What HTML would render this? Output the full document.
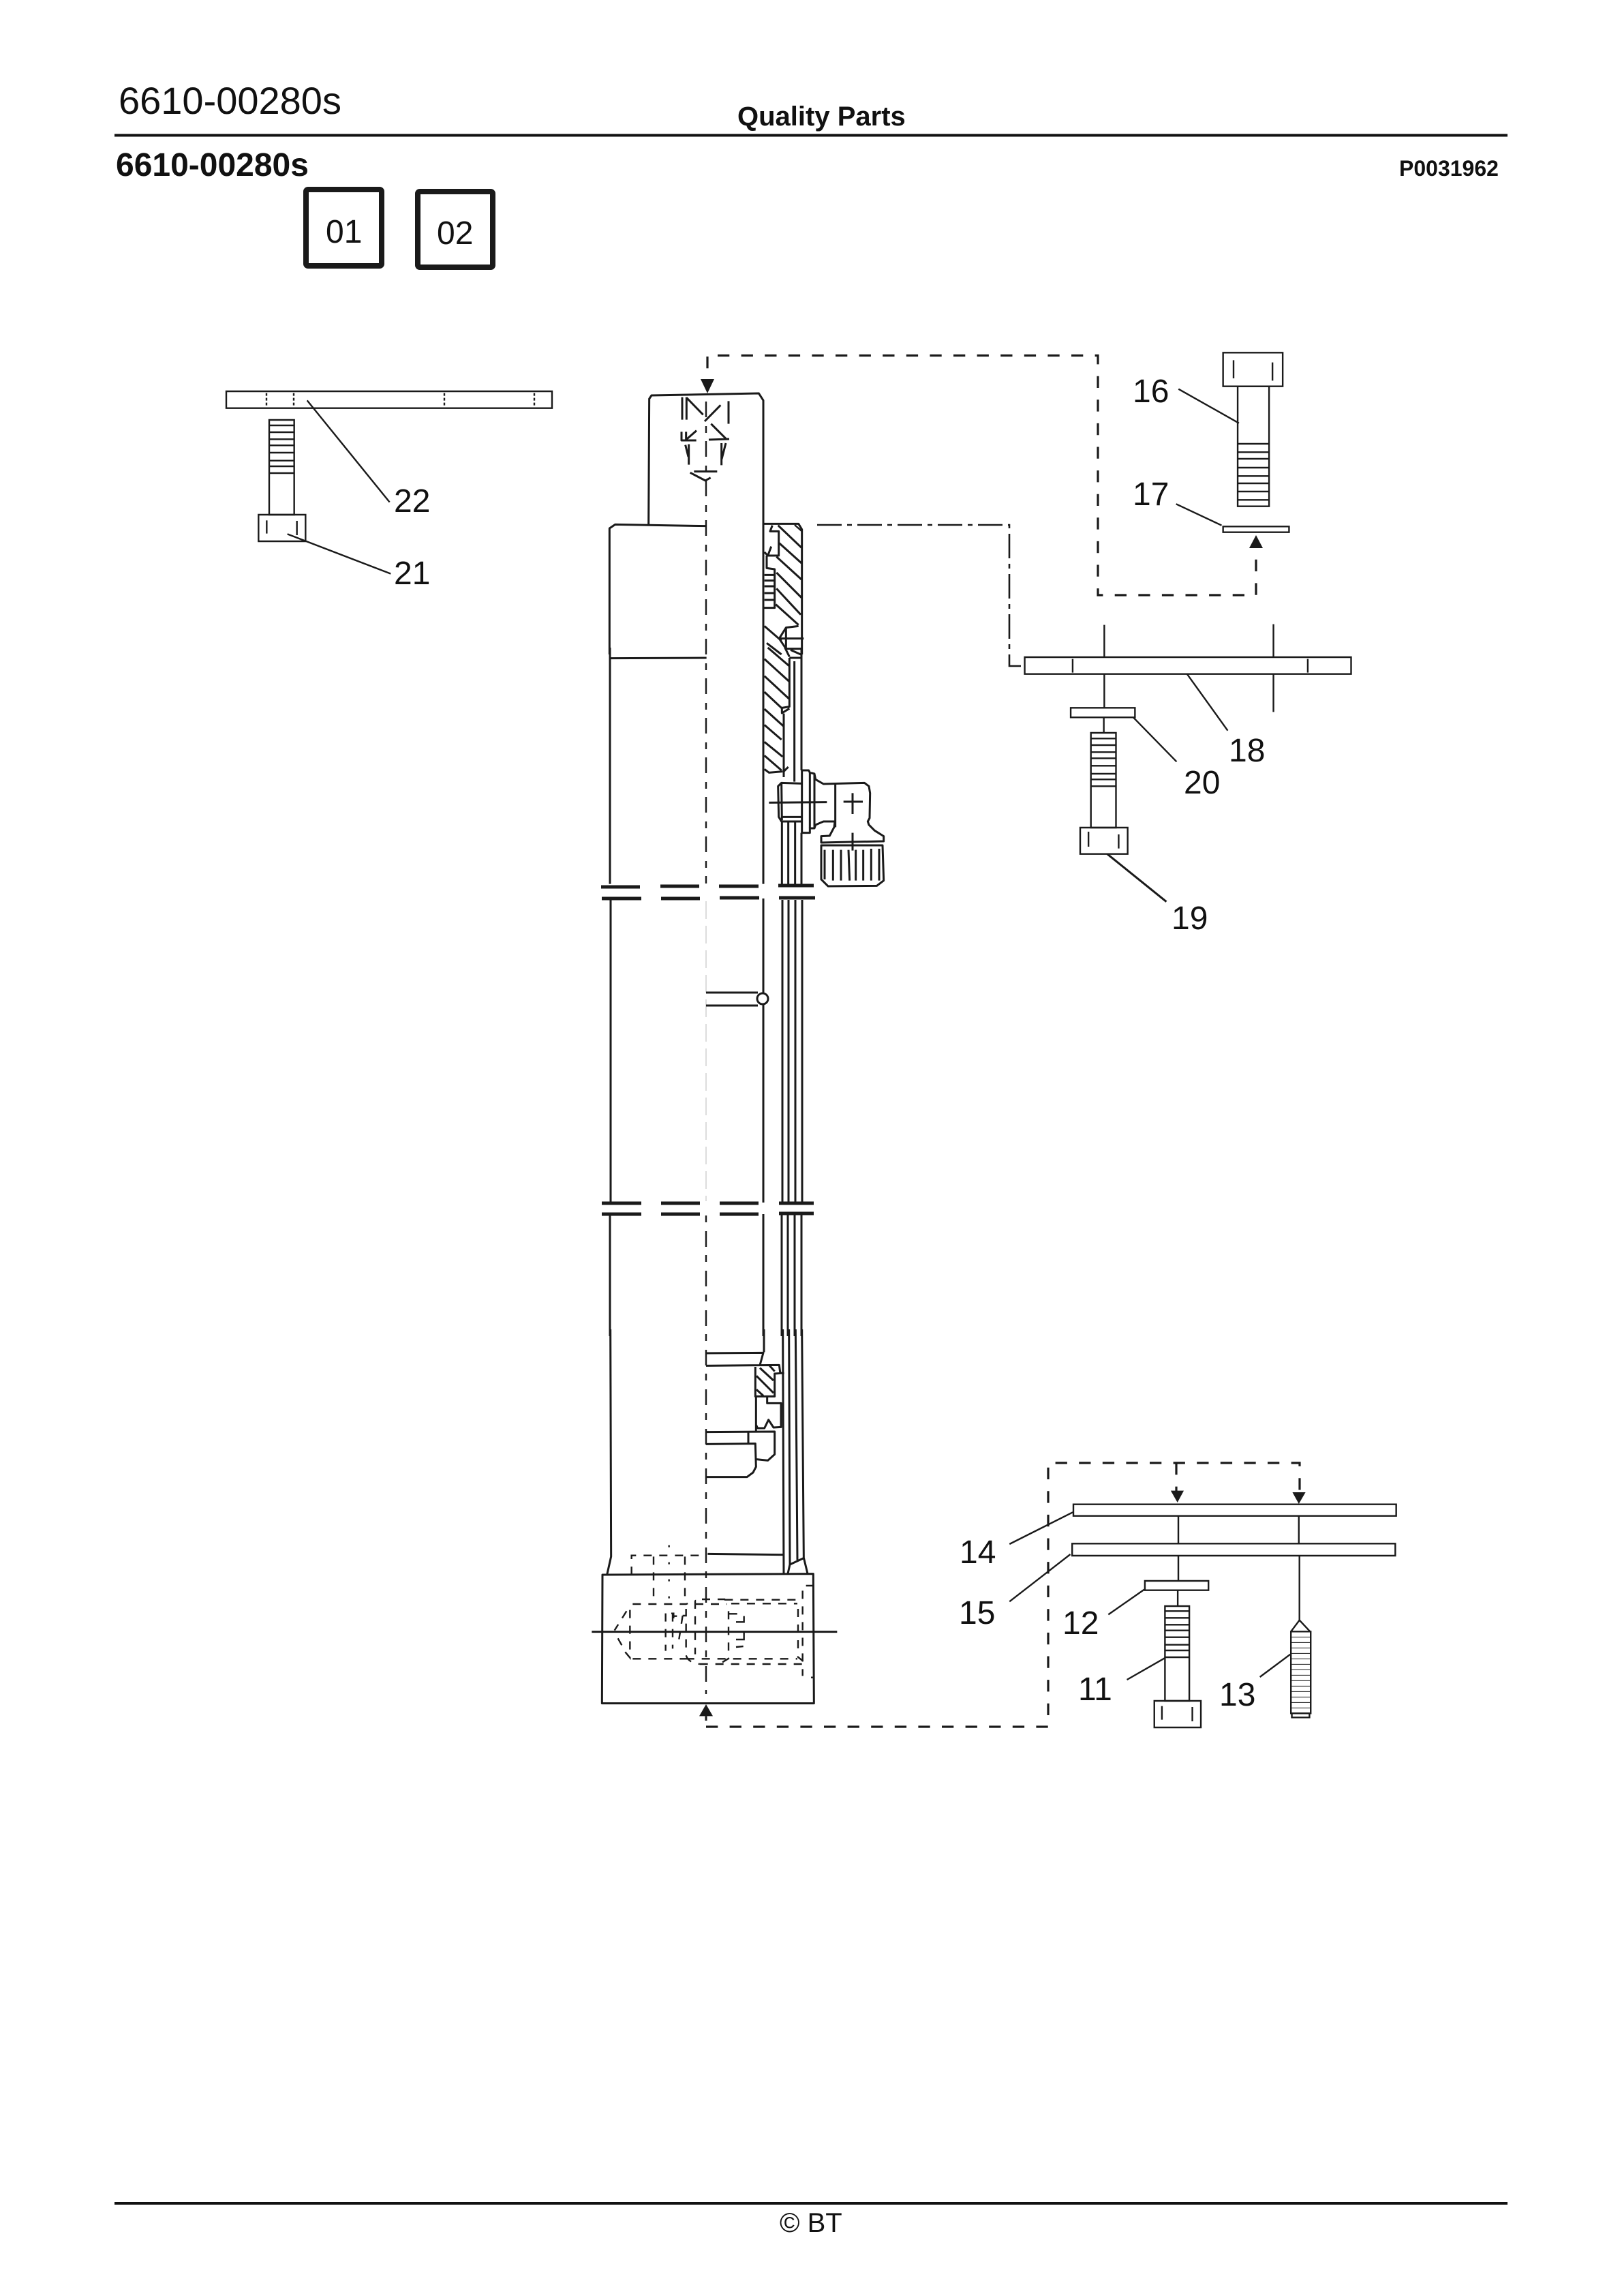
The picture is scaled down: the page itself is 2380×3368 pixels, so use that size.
<!DOCTYPE html>
<html><head><meta charset="utf-8"><style>
html,body{margin:0;padding:0;background:#fff;width:2380px;height:3368px;overflow:hidden}
svg{display:block}
svg *{vector-effect:non-scaling-stroke}
text{font-family:"Liberation Sans",sans-serif;fill:#111}
.n{font-size:48px}
.b{font-weight:bold}
.l{fill:none;stroke:#1a1a1a;stroke-width:3;stroke-linejoin:round}
.t{fill:none;stroke:#1a1a1a;stroke-width:2.4}
.d{fill:none;stroke:#1a1a1a;stroke-width:2.4;stroke-dasharray:12 11}
.c{fill:none;stroke:#1a1a1a;stroke-width:3.2;stroke-dasharray:17.3 17.3}
.br{fill:none;stroke:#1a1a1a;stroke-width:5}
</style></head><body>
<svg width="2380" height="3368" viewBox="0 0 2380 3368" xmlns="http://www.w3.org/2000/svg">
<rect width="2380" height="3368" fill="#fff"/>
<!-- header -->
<text x="174" y="167" font-size="56">6610-00280s</text>
<text x="1082" y="184" font-size="40" class="b">Quality Parts</text>
<rect x="168" y="196.500" width="2044" height="4" fill="#111"/>
<text x="170" y="258" font-size="48" class="b">6610-00280s</text>
<text x="2053" y="258" font-size="32" class="b">P0031962</text>
<rect x="449" y="278" width="111" height="112" rx="3" fill="none" stroke="#1a1a1a" stroke-width="8"/>
<rect x="613" y="281" width="110" height="111" rx="3" fill="none" stroke="#1a1a1a" stroke-width="8"/>
<text x="478" y="356" class="n">01</text>
<text x="641" y="358" class="n">02</text>
<!-- footer -->
<rect x="168" y="3230" width="2044" height="4" fill="#111"/>
<text x="1144" y="3274" font-size="40">© BT</text>

<!-- connectors -->
<path class="c" d="M1053 521.500H1611V873H1843V805"/>
<path class="c" d="M1038 523V556"/>
<path d="M1028 556H1048L1038 577Z" fill="#1a1a1a"/>
<path d="M1833 804H1853L1843 785Z" fill="#1a1a1a"/>
<path fill="none" stroke="#1a1a1a" stroke-width="2.6" stroke-dasharray="36 8 7 8" d="M1199 770H1481V977H1498"/>
<path class="c" d="M1036 2533H1538V2146H1907V2189"/>
<path class="c" d="M1726 2146V2187"/>

<!-- main body upper : crop 3 coordinates -->
<g transform="translate(860,500) scale(.33333)">
<path class="l" d="M275 808L278 255L288 240L760 231L780 262V1380"/>
<path class="l" d="M528 815L128 808L103 825V1380"/>
<path class="l" d="M780 805H935L950 830V1380"/>
<path class="t" d="M918 810L950 838"/>
<path class="l" d="M820 812L810 838H848V945H800L785 930M815 905L800 945M795 945L795 1000L830 1005V1175H780"/>
<path class="l" d="M785 1030H830M785 1055H830M785 1080H830M785 1110H830M785 1140H830"/>
<path class="l" d="M845 812L948 910M850 890L948 978M838 950L948 1050M838 1020L948 1130M838 1090L945 1205M835 1160L935 1250M785 1255L860 1320M795 1330L860 1380M900 1360L945 1380"/>
<path class="l" d="M935 1255L880 1262L850 1310L880 1355H950M880 1262V1355M850 1310H958"/>
<path class="l" d="M423 248V347M442 248V347M442 250L515 325M592 283L522 354M627 265V365M550 365L615 430M540 435L630 432M420 400V438H485M440 400V438M440 435L486 395M452 455V545M437 458L450 510M596 450V547M615 450L597 520M475 575H577M458 580L525 615L548 602"/>
</g>
<!-- crop 4 coordinates -->
<g transform="translate(860,950) scale(.33333)">
<path class="l" d="M105 0V1040"/>
<path class="l" d="M108 47L530 45"/>
<path class="l" d="M780 0V1040M948 0V540M875 0L895 40M895 45H948M895 45V260L862 265V288L895 268M870 290V570M785 535L805 550L865 545M870 545L890 525M917 60V590"/>
<path class="l" d="M800 0L893 80M785 50L895 150M785 125L893 225M785 195L865 270M785 270L868 345M785 340L860 405M785 415L865 480M785 475L860 540"/>
<path class="l" d="M948 540H980L985 550L1005 555L1010 580L1045 600L1225 595L1245 610L1250 640L1248 750L1240 765L1245 780L1270 805L1310 830V852L1035 858V830L1072 828L1092 790L1095 765H1045L1010 780L1005 795H985V815H950V540"/>
<path class="l" d="M985 550V795M1005 555V795M1097 600V790"/>
<path class="l" d="M948 598L860 595L845 610L848 745L860 765H950M860 597L862 760M860 745H948"/>
<path class="l" d="M805 682L1060 680M1133 678H1218M1173 640V732M1173 815V893"/>
<path class="l" d="M1035 870H1305L1310 1025L1280 1048L1065 1050L1035 1020Z"/>
<path class="l" d="M1050 890V1020M1087 890V1025M1122 890V1025M1155 890L1160 1025M1187 890V1025M1220 890V1025M1255 885V1025M1290 885V1025"/>
<path class="l" d="M862 765V1040M890 765V1040M920 765V1040M948 815V1040"/>
</g>
<!-- centre line -->
<path fill="none" stroke="#1a1a1a" stroke-width="2.4" stroke-dasharray="23 13 10 12" d="M1036 589V1296"/>
<path fill="none" stroke="#d4d4d4" stroke-width="1.600" stroke-dasharray="26 10" d="M1036 1322V1762"/>
<path fill="none" stroke="#1a1a1a" stroke-width="2.4" stroke-dasharray="10 13 23 12" d="M1036 1783V2485"/>
<!-- walls between breaks -->
<path class="l" d="M896 1320V1763M1120 1318V1764M1148 1320V1763M1157 1320V1763M1167 1320V1763M1177 1320V1763"/>
<!-- circle feature -->
<path class="l" d="M1036 1456H1112M1036 1475H1112"/>
<circle cx="1119" cy="1465" r="8" fill="#fff" stroke="#1a1a1a" stroke-width="3"/>
<!-- break bars -->
<path class="br" d="M882 1301H939M969 1300H1026M1055 1300H1113M1142 1299H1194M883 1318H941M970 1318H1027M1056 1317H1114M1143 1317H1196"/>
<path class="br" d="M883 1765H941M970 1765H1027M1056 1765H1113M1143 1765H1194M883 1781H941M970 1781H1027M1056 1781H1113M1143 1780H1194"/>
<!-- below second break -->
<path class="l" d="M895 1781V1960M1120 1781V1960M1147 1781V1960M1156 1781V1960M1166 1781V1960M1176 1781V1960"/>
<!-- crop 5 coordinates -->
<g transform="translate(860,1950) scale(.33333)">
<path class="l" d="M107 0L110 1000L92 1080M783 0V100"/>
<path class="l" d="M528 105L780 103L765 158M528 160L850 157L855 195M745 165V295H830V195L872 192M808 160L830 185"/>
<path class="l" d="M765 170L825 225M750 205L825 280M750 265L780 292"/>
<path class="l" d="M797 298V325H858V430L825 432L803 398L785 435H755L748 420V295M748 420V450"/>
<path class="l" d="M528 452L830 450V550L800 577L750 572M714 452V502M528 505L745 503L748 605L735 630L708 650H525"/>
<path class="l" d="M535 988L868 992M866 0L870 1075M893 0L897 1035L888 1075M922 0L930 1015M950 0L958 1005L975 1075M897 1035L955 1008"/>
</g>
<!-- crop 6 coordinates -->
<g transform="translate(860,2250) scale(.33333)">
<path class="l" d="M72 180L1000 176L1003 746H70Z"/>
<path class="l" d="M25 431H1105"/>
<path class="d" d="M200 180V95H500"/>
<path class="d" d="M297 100V275M435 100V275"/>
<path class="t" stroke-dasharray="3 22" d="M365 50V290"/>
<path class="d" d="M205 309H440L480 295V530M480 309H620"/>
<path class="d" d="M510 288H610L625 307H930"/>
<path class="d" d="M610 290H950"/>
<path class="d" d="M953 250V625M968 228H1000M933 330V530"/>
<path class="d" d="M205 550H440M440 550H930M500 573H950"/>
<path class="d" d="M193 335V545L172 520M140 460L157 490M178 340L125 425"/>
<path class="d" d="M350 350V515M381 350V505M425 360L405 490M440 395V500M627 340V515"/>
<path class="t" d="M630 352H665M660 388H695V362M695 432V465H660M660 498L692 495M440 330V360H425M375 350H385V372M385 362H400"/>
<path class="d" d="M440 535C450 565 480 570 500 573"/>
<path class="t" d="M600 565L630 547M930 540L955 560M990 632H1000"/>
<path d="M498 802H558L528 750Z" fill="#1a1a1a"/>
<path class="l" d="M528 802V822"/>
</g>

<!-- part 16 / 17 : crop 8 -->
<g transform="translate(1480,500) scale(.35714,.33333)">
<rect class="t" x="881" y="52" width="245" height="148"/>
<path class="t" d="M924 85V165M1084 95V175"/>
<rect class="t" x="941" y="200" width="129" height="528"/>
<path class="t" d="M941 453H1070M941 490H1072M941 519H1070M941 558H1072M941 595H1070M941 627H1070M941 663H1070M941 700H1070"/>
<rect class="t" x="881" y="817" width="271" height="25"/>
<path class="t" d="M698 212L946 362M688 718L875 812"/>
</g>
<text x="1662" y="590" class="n">16</text>
<text x="1662" y="741" class="n">17</text>

<!-- part 18 19 20 : crop 9 -->
<g transform="translate(1480,900) scale(.35714,.33333)">
<rect class="t" x="66" y="192" width="1341" height="74"/>
<path class="t" d="M263 200V260M1229 200V260M393 50V192M393 266V415M1088 47V192M1088 266V433"/>
<rect class="t" x="255" y="415" width="264" height="42"/>
<path class="t" d="M391 457V525"/>
<rect class="t" x="338" y="525" width="103" height="417"/>
<path class="t" d="M338 550H441M338 579H441M338 610H441M338 637H441M338 670H441M338 705H441M338 730H441M338 760H441"/>
<rect class="t" x="294" y="942" width="195" height="116"/>
<path class="t" d="M328 960V1026M452 972V1034"/>
<path class="t" style="stroke-width:3" d="M405 1058L648 1268"/>
<path class="t" d="M733 266L900 515M512 457L690 652"/>
</g>
<text x="1803" y="1117" class="n">18</text>
<text x="1737" y="1164" class="n">20</text>
<text x="1719" y="1363" class="n">19</text>

<!-- parts 21 22 : crop 10 -->
<g transform="translate(310,550) scale(.33333)">
<rect class="t" x="66" y="72" width="1434" height="74"/>
<path class="t" stroke-dasharray="4 3" d="M243 80V135M363 80V135M1026 80V135M1422 80V135"/>
<rect class="t" x="255" y="198" width="110" height="417"/>
<path class="t" d="M255 222H365M255 252H365M255 283H365M255 310H365M255 342H365M255 377H365M255 402H365M252 432H365"/>
<rect class="t" fill="#fff" x="208" y="615" width="207" height="117"/>
<path class="t" d="M244 640V698M377 642V705"/>
<path class="t" d="M422 112L785 560M335 700L790 875"/>
</g>
<text x="578" y="751" class="n">22</text>
<text x="578" y="857" class="n">21</text>

<!-- parts 11-15 : crop 7 -->
<g transform="translate(1400,2130) scale(.44643,.33333)">
<path d="M712 170H755L734 222Z" fill="#1a1a1a"/>
<path d="M1112 177H1155L1133 228Z" fill="#1a1a1a"/>
<rect class="t" x="392" y="230" width="1061" height="51"/>
<rect class="t" x="388" y="403" width="1062" height="53"/>
<path class="t" d="M737 281V403M737 456V567M1133 281V403M1135 456V740"/>
<rect class="t" x="627" y="567" width="209" height="41"/>
<path class="t" d="M735 608V678"/>
<rect class="t" x="693" y="678" width="80" height="417"/>
<path class="t" d="M693 700H773M693 730H773M693 760H773M693 785H773M693 815H773M693 848H773M693 873H773M693 903H773"/>
<rect class="t" x="658" y="1095" width="153" height="117"/>
<path class="t" d="M683 1118V1178M783 1122V1185"/>
<path class="t" d="M1107 790L1135 740L1170 790"/>
<rect class="t" x="1107" y="790" width="65" height="360"/>
<path style="stroke-width:1" class="t" d="M1107 814H1172M1107 838H1172M1107 862H1172M1107 886H1172M1107 910H1172M1107 934H1172M1107 958H1172M1107 982H1172M1107 1006H1172M1107 1030H1172M1107 1054H1172M1107 1078H1172M1107 1102H1172M1107 1126H1172"/>
<rect class="t" x="1110" y="1150" width="58" height="18"/>
<path class="t" d="M182 405L390 265M182 658L382 450M507 715L625 605M568 1002L692 907M1005 990L1105 890"/>
</g>
<text x="1408" y="2293" class="n">14</text>
<text x="1407" y="2382" class="n">15</text>
<text x="1559" y="2397" class="n">12</text>
<text x="1582" y="2494" class="n">11</text>
<text x="1789" y="2502" class="n">13</text>
</svg>
</body></html>
